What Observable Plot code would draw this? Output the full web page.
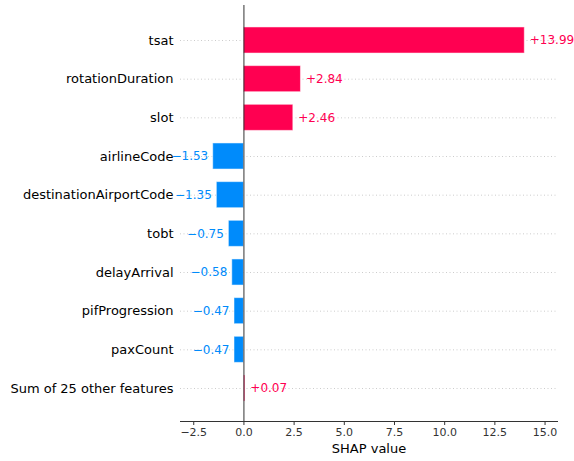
<!DOCTYPE html>
<html>
<head>
<meta charset="utf-8">
<script src="https://cdn.jsdelivr.net/npm/d3@7"></script>
<script src="https://cdn.jsdelivr.net/npm/@observablehq/plot@0.6"></script>
<style>
  html, body { margin: 0; padding: 0; background: #fff; }
  #chart svg { display: block; }
</style>
</head>
<body>
<div id="chart"></div>
<script>
const features = ["tsat", "rotationDuration", "slot", "airlineCode", "destinationAirportCode", "tobt", "delayArrival", "pifProgression", "paxCount", "Sum of 25 other features"];
const shapValues = [13.99, 2.84, 2.46, -1.53, -1.35, -0.75, -0.58, -0.47, -0.47, 0.07];
const xTicks = [-2.5, 0, 2.5, 5, 7.5, 10, 12.5, 15];

const POS = "#ff0051", NEG = "#008bfb";
const data = features.map((f, i) => ({feature: f, value: shapValues[i]}));
const fmtVal = v => (v >= 0 ? "+" : "\u2212") + Math.abs(v).toFixed(2);
const fmtTick = v => (v < 0 ? "\u2212" : "") + Math.abs(v).toFixed(1);

const chart = Plot.plot({
  width: 574,
  height: 461,
  marginLeft: 180,
  marginRight: 17,
  marginTop: 5,
  marginBottom: 40,
  style: {fontFamily: "DejaVu Sans, sans-serif", background: "#fff"},
  x: {domain: [-3.16, 15.62]},
  y: {domain: features, range: [20.67, 407.33], padding: 0, round: false},
  marks: [
    Plot.ruleY(features, {y: d => d, x1: -3.16, x2: 15.55, stroke: "#cccccc", strokeWidth: 1, strokeDasharray: "1,2.5"}),
    Plot.barX(data, {
      y: "feature", x1: 0, x2: "value",
      fill: d => d.value >= 0 ? POS : NEG,
      stroke: "#ffffff", strokeOpacity: 0.5, strokeWidth: 1,
      insetTop: 6.3, insetBottom: 6.3
    }),
    Plot.ruleX([0], {stroke: "#333333", strokeWidth: 1}),
    Plot.text(data.filter(d => d.value >= 0), {
      y: "feature", x: "value", text: d => fmtVal(d.value),
      textAnchor: "start", dx: 5, fill: POS, fontSize: 12
    }),
    Plot.text(data.filter(d => d.value < 0), {
      y: "feature", x: "value", text: d => fmtVal(d.value),
      textAnchor: "end", dx: -5, fill: NEG, fontSize: 12
    }),
    Plot.axisY({tickSize: 0, tickPadding: 7, fontSize: 13, fill: "#000", label: null}),
    Plot.axisX({ticks: xTicks, tickFormat: fmtTick, tickSize: 4, tickPadding: 3, fontSize: 11, fill: "#333", stroke: "#333", label: null}),
    Plot.frame({anchor: "bottom", stroke: "#333"}),
    Plot.text(["SHAP value"], {frameAnchor: "bottom", dy: 31, fontSize: 13, fill: "#000"})
  ]
});
document.getElementById("chart").appendChild(chart);
</script>
</body>
</html>
